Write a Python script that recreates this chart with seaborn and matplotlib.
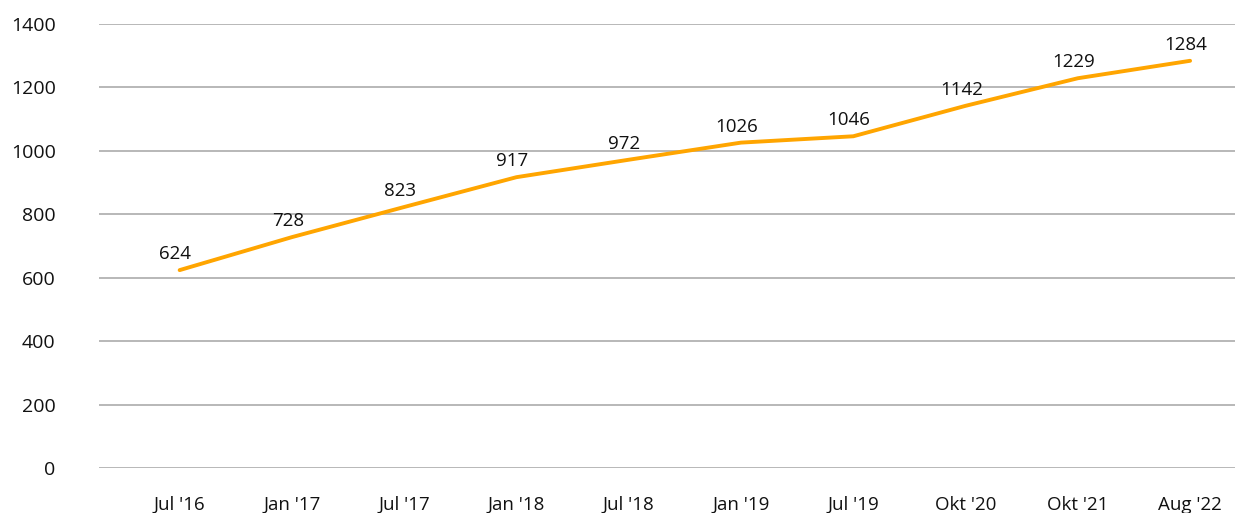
import matplotlib
matplotlib.use("Agg")
import matplotlib.pyplot as plt
import seaborn as sns
import pandas as pd

categories = ["Jul '16", "Jan '17", "Jul '17", "Jan '18", "Jul '18", "Jan '19", "Jul '19", "Okt '20", "Okt '21", "Aug '22"]
values = [624, 728, 823, 917, 972, 1026, 1046, 1142, 1229, 1284]
yticks = [0, 200, 400, 600, 800, 1000, 1200, 1400]

sns.set_theme(style="white")
plt.rcParams['font.family'] = ['Open Sans', 'DejaVu Sans']

df = pd.DataFrame({"cat": categories, "val": values, "x": range(len(categories))})

fig = plt.figure(figsize=(12.35, 5.13), dpi=100)
ax = fig.add_axes([0.080, 0.0877, 0.920, 0.8655])

for yv in yticks:
    ax.axhline(yv, color="#ABABAB", lw=1.2, zorder=0)

sns.lineplot(data=df, x="x", y="val", ax=ax, color="#FFA500", lw=2.8, zorder=3)

for xi, v in zip(df["x"], values):
    ax.annotate(str(v), (xi, v), xytext=(-3, 5), textcoords="offset points",
                ha="center", va="bottom", fontsize=13.5, color="#111111")

ax.set_xlim(-0.72, 9.4)
ax.set_ylim(0, 1400)
ax.set_yticks(yticks)
ax.set_yticklabels([str(t) for t in yticks], fontsize=14, color="#111111")
ax.set_xticks(list(df["x"]))
ax.set_xticklabels(categories, fontsize=13.5, color="#111111")
ax.tick_params(axis="y", length=0, pad=31)
ax.tick_params(axis="x", length=0, pad=20)
ax.set_xlabel("")
ax.set_ylabel("")
for s in ax.spines.values():
    s.set_visible(False)
ax.grid(False)

fig.savefig("out.png", dpi=100)
